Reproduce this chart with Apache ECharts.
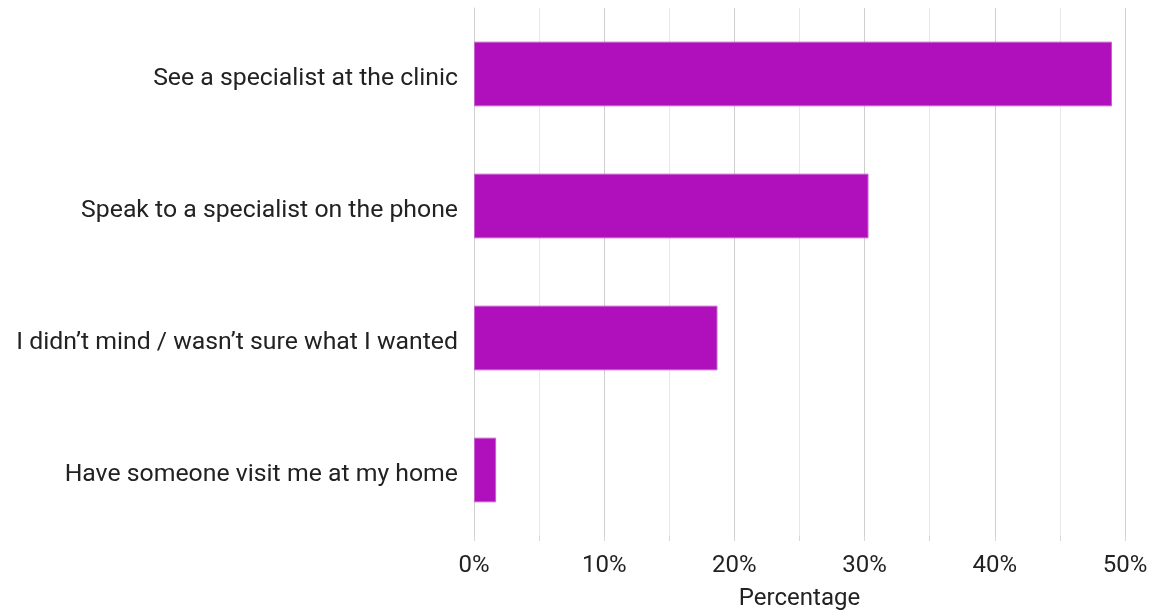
<!DOCTYPE html>
<html>
<head>
<meta charset="utf-8">
<script src="https://cdn.jsdelivr.net/npm/echarts@6/dist/echarts.min.js"></script>
<style>
  html, body { margin: 0; padding: 0; background: #ffffff; }
  #chart { width: 1156px; height: 616px; }
</style>
</head>
<body>
<div id="chart"></div>
<script>
// Preferred appointment type, share of respondents (%)
const categories = [
  'Have someone visit me at my home',
  'I didn\u2019t mind / wasn\u2019t sure what I wanted',
  'Speak to a specialist on the phone',
  'See a specialist at the clinic'
];
const values = [1.7, 18.7, 30.3, 49.0];
const axisTitle = 'Percentage';

const FONT = '"Roboto", sans-serif';

const chart = echarts.init(document.getElementById('chart'));
chart.setOption({
  animation: false,
  textStyle: { fontFamily: FONT },
  grid: { left: 474, right: 31, top: 8, bottom: 75, containLabel: false },
  xAxis: {
    type: 'value',
    min: 0,
    max: 50,
    interval: 5,
    name: axisTitle,
    nameLocation: 'middle',
    nameGap: 51,
    nameTextStyle: { fontFamily: FONT, fontSize: 24, color: '#222' },
    axisLine: { show: false },
    axisTick: { show: true, length: 5, lineStyle: { color: '#d6d6d6' } },
    axisLabel: {
      fontFamily: FONT, fontSize: 24, color: '#222', margin: 18,
      formatter: v => (v % 10 === 0 ? v + '%' : '')
    },
    splitLine: { show: true, lineStyle: { color: ['#cfcfcf', '#e8e8e8'], width: 1 } }
  },
  yAxis: {
    type: 'category',
    data: categories,
    axisLine: { show: true, lineStyle: { color: '#cfcfcf' } },
    axisTick: { show: false },
    axisLabel: {
      margin: 16,
      formatter: v => '{c|' + v + '}',
      rich: {
        c: { fontFamily: FONT, fontSize: 24.8, color: '#222', padding: [9, 0, 0, 0] }
      }
    }
  },
  series: [{
    type: 'bar',
    data: values,
    barCategoryGap: '51%',
    itemStyle: { color: '#b010bb', borderColor: '#c75fd0', borderWidth: 1 }
  }]
});
</script>
</body>
</html>
